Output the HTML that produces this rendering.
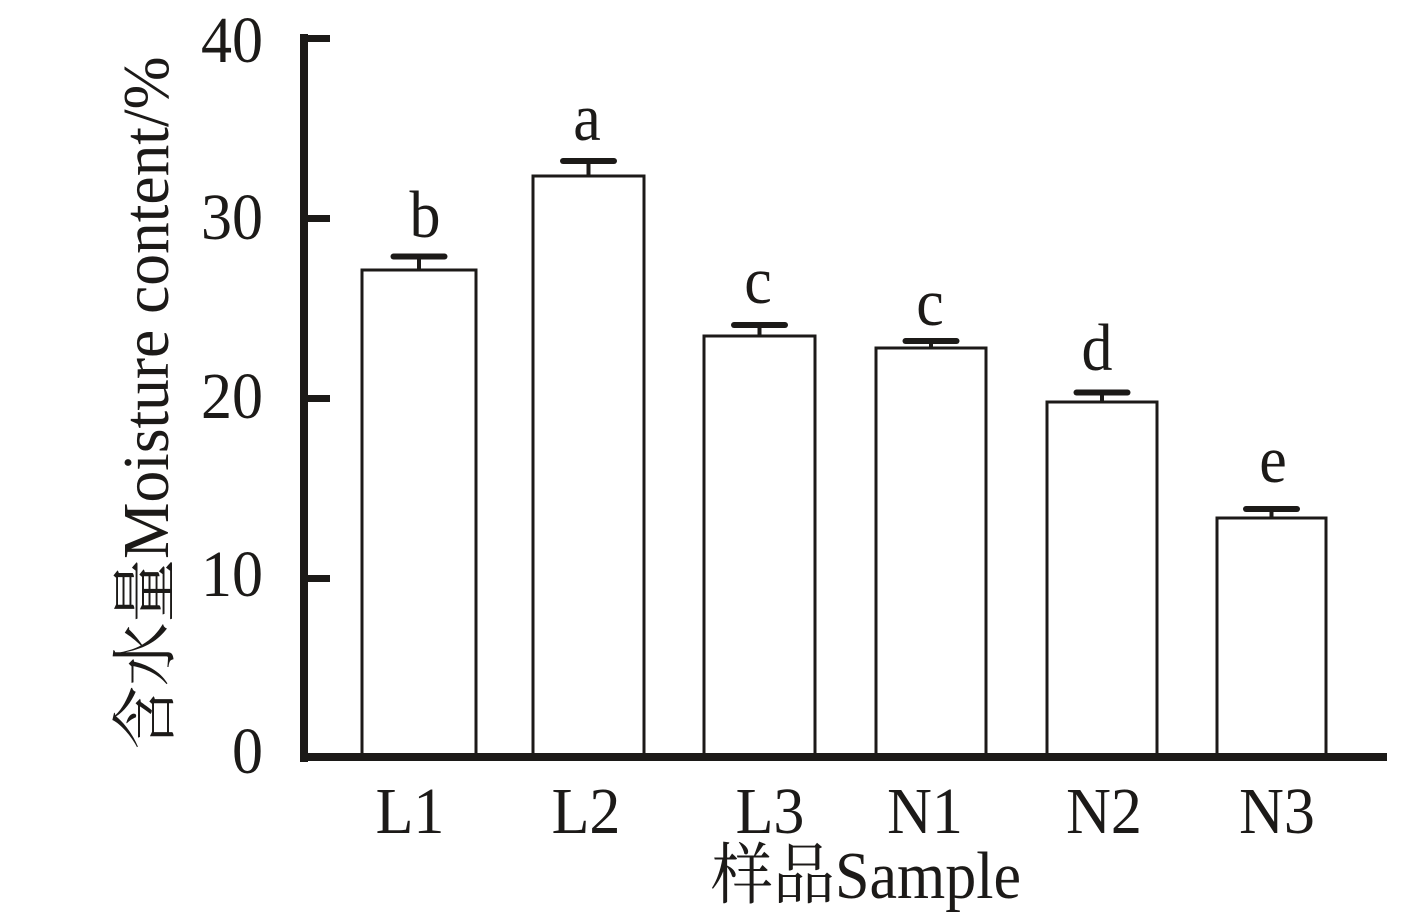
<!DOCTYPE html>
<html>
<head>
<meta charset="utf-8">
<style>
  html,body{margin:0;padding:0;background:#fff;}
  svg{display:block;}
  text{font-family:"Liberation Serif","Noto Serif CJK SC","Noto Sans CJK SC",serif;fill:#1c1a18;}
</style>
</head>
<body>
<svg width="1417" height="922" viewBox="0 0 1417 922" xmlns="http://www.w3.org/2000/svg">
  <rect x="0" y="0" width="1417" height="922" fill="#fff"/>

  <!-- bars -->
  <g fill="#fff" stroke="#1c1a18" stroke-width="3">
    <rect x="362" y="270" width="114" height="487"/>
    <rect x="533" y="176" width="111" height="581"/>
    <rect x="704" y="336" width="111" height="421"/>
    <rect x="876" y="348" width="110" height="409"/>
    <rect x="1047" y="402" width="110" height="355"/>
    <rect x="1217" y="518" width="109" height="239"/>
  </g>

  <!-- error bars -->
  <g fill="#1c1a18">
    <rect x="390.5" y="253.5" width="57" height="6" rx="3"/>
    <rect x="417" y="256" width="4" height="14"/>
    <rect x="560" y="158" width="57" height="6" rx="3"/>
    <rect x="586.5" y="161" width="4" height="15"/>
    <rect x="731" y="322" width="57" height="6" rx="3"/>
    <rect x="757.5" y="325" width="4" height="11"/>
    <rect x="902.5" y="338" width="57" height="6" rx="3"/>
    <rect x="929" y="341" width="4" height="7"/>
    <rect x="1073.5" y="389.5" width="57" height="6" rx="3"/>
    <rect x="1100" y="392" width="4" height="10"/>
    <rect x="1243" y="506" width="57" height="6" rx="3"/>
    <rect x="1269.5" y="509" width="4" height="9"/>
  </g>

  <!-- axes -->
  <g fill="#1c1a18">
    <rect x="300" y="34" width="8" height="728"/>
    <rect x="300" y="753" width="1087" height="8"/>
    <rect x="306" y="35" width="24" height="7"/>
    <rect x="306" y="215" width="24" height="7"/>
    <rect x="306" y="395" width="24" height="7"/>
    <rect x="306" y="575" width="24" height="7"/>
  </g>

  <!-- y tick labels -->
  <g font-size="62" text-anchor="end">
    <text transform="translate(263,62) scale(1,1.06)">40</text>
    <text transform="translate(263,239) scale(1,1.06)">30</text>
    <text transform="translate(263,418) scale(1,1.06)">20</text>
    <text transform="translate(263,596) scale(1,1.06)">10</text>
    <text transform="translate(263,773) scale(1,1.06)">0</text>
  </g>

  <!-- x tick labels -->
  <g font-size="62" text-anchor="middle">
    <text transform="translate(410,833) scale(1,1.06)">L1</text>
    <text transform="translate(586,833) scale(1,1.06)">L2</text>
    <text transform="translate(770,833) scale(1,1.06)">L3</text>
    <text transform="translate(925,833) scale(1,1.06)">N1</text>
    <text transform="translate(1104,833) scale(1,1.06)">N2</text>
    <text transform="translate(1277,833) scale(1,1.06)">N3</text>
  </g>

  <!-- significance letters -->
  <g font-size="62" text-anchor="middle">
    <text transform="translate(425,237) scale(1,1.08)">b</text>
    <text transform="translate(587,140) scale(1,1.08)">a</text>
    <text transform="translate(758,303) scale(1,1.08)">c</text>
    <text transform="translate(930,325) scale(1,1.08)">c</text>
    <text transform="translate(1097,370) scale(1,1.08)">d</text>
    <text transform="translate(1273,482) scale(1,1.08)">e</text>
  </g>

  <!-- axis titles -->
  <text font-size="63.5" text-anchor="middle" transform="translate(168,403) rotate(-90) scale(1,1.04)">含水量Moisture content/%</text>
  <text font-size="62" text-anchor="middle" transform="translate(866,898) scale(1,1.08)">样品Sample</text>
</svg>
</body>
</html>
